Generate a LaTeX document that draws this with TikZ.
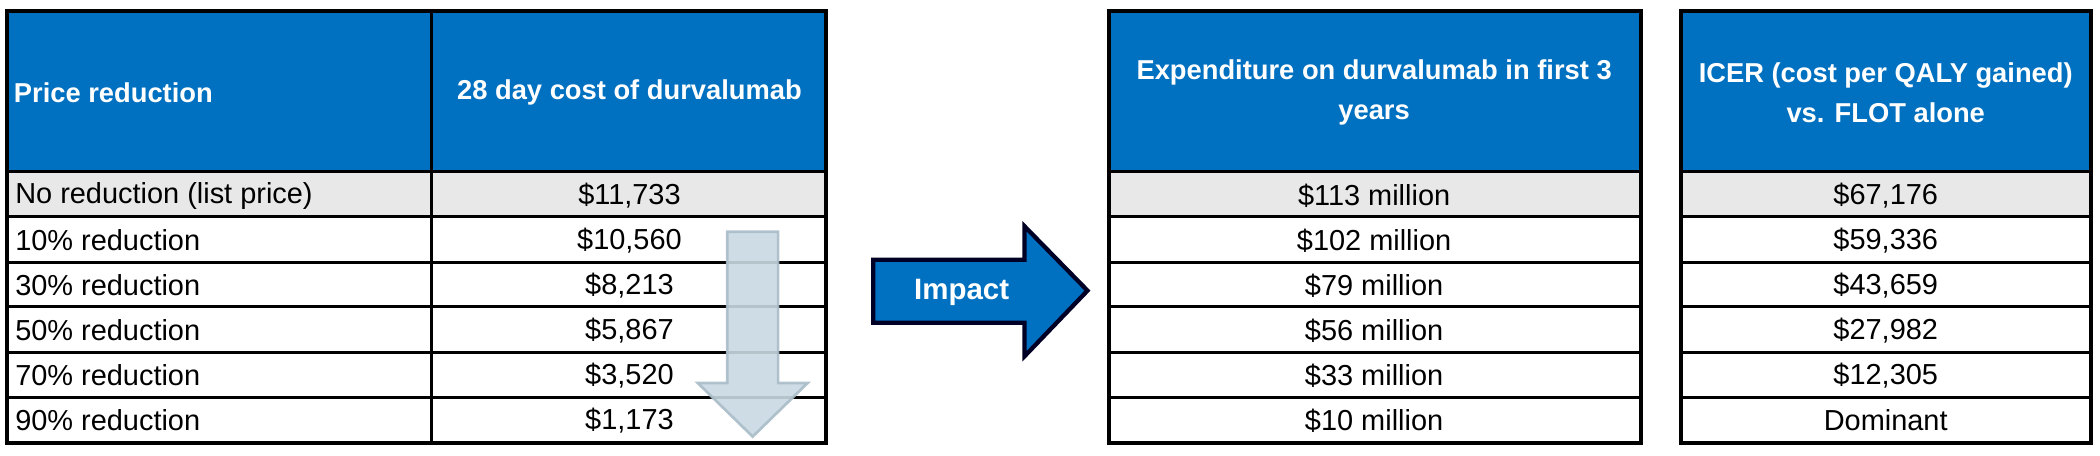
\documentclass[tikz,border=0pt]{standalone}
\usepackage{fontspec}
\setmainfont{Liberation Sans}
\definecolor{hdr}{HTML}{0070C0}
\definecolor{grey}{HTML}{E8E8E8}
\definecolor{arr}{HTML}{C9D9E2}
\definecolor{arrb}{HTML}{A9BDC8}
\begin{document}
\begin{tikzpicture}[x=0.5pt,y=-0.5pt,
  txt/.style={font=\fontsize{10.8}{12}\selectfont, inner sep=0pt},
  htxt/.style={font=\bfseries\fontsize{10.2}{15}\selectfont, text=white, align=center, inner sep=0pt},
  grid/.style={draw=black, line width=1.1pt}]
\useasboundingbox (0,0) rectangle (1568,340);
\newcommand{\tbl}[2]{% x0, x1
  \fill[hdr] (#1,8) rectangle (#2,128);
  \fill[grey] (#1,128) rectangle (#2,162);
  \foreach \y in {128,162,196,229,263,297} \draw[grid] (#1,\y) -- (#2,\y);
  \draw[line width=1.6pt] (#1,8) rectangle (#2,331);}
\tbl{5}{617}
\draw[grid] (322,8) -- (322,331);
\tbl{828}{1225}
\tbl{1255}{1561}
% headers
\node[htxt, anchor=west] (h1) at (10,69) {Price reduction};
\node[htxt] (h2) at (470,69) {28 day cost of durvalumab};
\node[htxt] (h3) at (1026,69) {Expenditure on durvalumab in first 3\\years};
\node[htxt] (h4) at (1408,69) {ICER (cost per QALY gained)\\vs. FLOT alone};
% data
\foreach \i/\a/\b/\c/\d in {0/{No reduction (list price)}/{\$11,733}/{\$113 million}/{\$67,176},
  1/{10\% reduction}/{\$10,560}/{\$102 million}/{\$59,336},
  2/{30\% reduction}/{\$8,213}/{\$79 million}/{\$43,659},
  3/{50\% reduction}/{\$5,867}/{\$56 million}/{\$27,982},
  4/{70\% reduction}/{\$3,520}/{\$33 million}/{\$12,305},
  5/{90\% reduction}/{\$1,173}/{\$10 million}/{Dominant}}{
  \pgfmathsetmacro\yy{146+33.6*\i}
  \node[txt, anchor=west] (a\i) at (11,\yy) {\a};
  \node[txt] (b\i) at (470,\yy) {\b};
  \node[txt] (c\i) at (1026,\yy) {\c};
  \node[txt] (d\i) at (1408,\yy) {\d};
}
% down arrow
\draw[fill=arr, draw=arrb, line width=1pt, opacity=0.9]
  (543,173) -- (581,173) -- (581,286) -- (603,286) -- (562,326) -- (521,286) -- (543,286) -- cycle;
% impact arrow
\draw[fill=hdr, draw=black!85!blue, line width=1.6pt]
  (652,194) -- (765,194) -- (765,169) -- (812,217) -- (765,266) -- (765,241) -- (652,241) -- cycle;
\node[htxt, font=\bfseries\fontsize{11}{12}\selectfont] (imp) at (718,218) {Impact};
\end{tikzpicture}
\end{document}
